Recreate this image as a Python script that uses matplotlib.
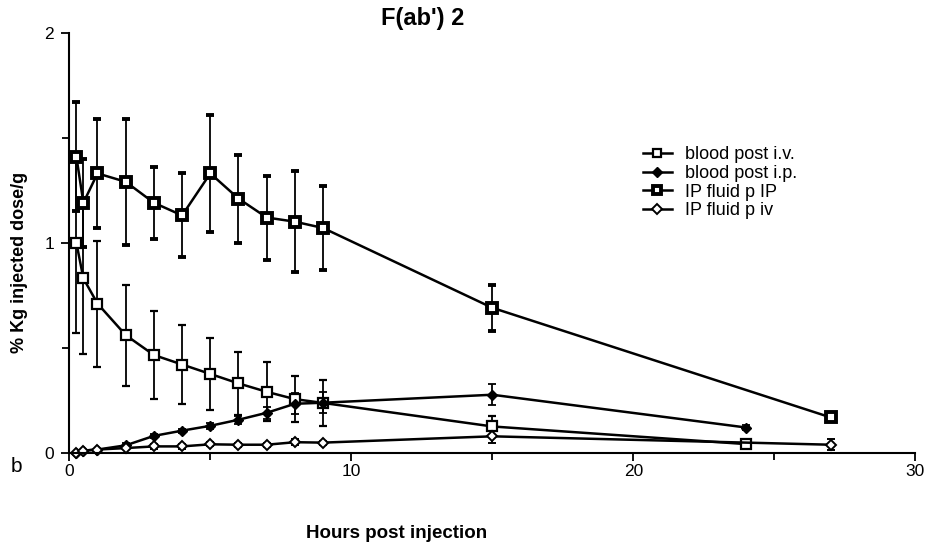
import matplotlib.pyplot as plt
import numpy as np

plt.rcParams['font.family'] = ['Liberation Sans', 'DejaVu Sans']

# time points (hours post injection)
t_blood_iv = [0.25, 0.5, 1, 2, 3, 4, 5, 6, 7, 8, 9, 15, 24]
t_blood_ip = [0.25, 0.5, 1, 2, 3, 4, 5, 6, 7, 8, 9, 15, 24]
t_fluid_ip = [0.25, 0.5, 1, 2, 3, 4, 5, 6, 7, 8, 9, 15, 27]
t_fluid_iv = [0.25, 0.5, 1, 2, 3, 4, 5, 6, 7, 8, 9, 15, 27]

# % Kg injected dose/g
blood_iv = [1.0, 0.83, 0.71, 0.56, 0.465, 0.42, 0.375, 0.33, 0.29, 0.255, 0.237, 0.125, 0.041]
blood_iv_err = [0.43, 0.36, 0.30, 0.24, 0.21, 0.19, 0.17, 0.15, 0.14, 0.11, 0.11, 0.05, 0.0]

blood_ip = [0.0, 0.01, 0.015, 0.035, 0.08, 0.105, 0.128, 0.157, 0.19, 0.233, 0.238, 0.276, 0.12]
blood_ip_err = [0.0, 0.0, 0.0, 0.01, 0.01, 0.01, 0.015, 0.02, 0.03, 0.05, 0.05, 0.05, 0.01]

fluid_ip = [1.41, 1.19, 1.33, 1.29, 1.19, 1.13, 1.33, 1.21, 1.12, 1.10, 1.07, 0.69, 0.168]
fluid_ip_err = [0.26, 0.21, 0.26, 0.30, 0.17, 0.20, 0.28, 0.21, 0.20, 0.24, 0.20, 0.11, 0.01]

fluid_iv = [0.0, 0.01, 0.015, 0.022, 0.03, 0.03, 0.04, 0.038, 0.038, 0.05, 0.048, 0.078, 0.038]
fluid_iv_err = [0.0, 0.0, 0.0, 0.005, 0.01, 0.01, 0.01, 0.01, 0.01, 0.015, 0.01, 0.03, 0.025]

labels = ['blood post i.v.', 'blood post i.p.', 'IP fluid p IP', 'IP fluid p iv']

fig = plt.figure(figsize=(9.28, 5.6), dpi=100)
ax = fig.add_axes([69.3 / 928, 1 - 452.7 / 560, 846 / 928, 420 / 560])

eb = dict(color='black', ecolor='black', elinewidth=1.3, capsize=3, capthick=1.3,
          lw=1.8, clip_on=False)

c1 = ax.errorbar(t_blood_iv, blood_iv, yerr=blood_iv_err, marker='s', ms=6.5,
                 mfc='white', mec='black', mew=1.6, **eb)
c2 = ax.errorbar(t_blood_ip, blood_ip, yerr=blood_ip_err, marker='D', ms=5.5,
                 mfc='black', mec='black', **eb)
c3 = ax.errorbar(t_fluid_ip, fluid_ip, yerr=fluid_ip_err, marker='s', ms=7.5,
                 mfc='white', mec='black', mew=2.8, **eb)
c4 = ax.errorbar(t_fluid_iv, fluid_iv, yerr=fluid_iv_err, marker='D', ms=5.5,
                 mfc='white', mec='black', mew=1.4, **eb)

ax.set_xlim(0, 30)
ax.set_ylim(0, 2)
ax.set_xticks([0, 10, 20, 30])
ax.set_xticks([5, 15, 25], minor=True)
ax.set_yticks([0, 1, 2])
ax.set_yticks([0.5, 1.5], minor=True)
ax.tick_params(which='both', direction='out', width=1.3, labelsize=12.5)
ax.tick_params(which='major', length=6)
ax.tick_params(which='minor', length=5)
ax.tick_params(axis='x', pad=2)
ax.tick_params(axis='y', pad=5)
for s in ['top', 'right']:
    ax.spines[s].set_visible(False)
for s in ['left', 'bottom']:
    ax.spines[s].set_linewidth(1.5)

# legend shows line + marker only, no error bars
handles = [c[0] for c in (c1, c2, c3, c4)]
leg = ax.legend(handles, labels, loc='upper left',
                bbox_to_anchor=(634 / 928, 1 - 137 / 560),
                bbox_transform=fig.transFigure, frameon=False, fontsize=13,
                handlelength=1.6, handletextpad=0.7, labelspacing=0.1,
                borderpad=0, markerscale=0.85)

fig.text(423 / 928, 1 - 18 / 560, "F(ab') 2", ha='center', va='center',
         fontsize=17, fontweight='bold')
fig.text(20 / 928, 1 - 262 / 560, '% Kg injected dose/g', rotation=90,
         ha='center', va='center', fontsize=13, fontweight='bold')
fig.text(397 / 928, 1 - 534 / 560, 'Hours post injection', ha='center',
         va='center', fontsize=13.5, fontweight='bold')
fig.text(16 / 928, 1 - 466 / 560, 'b', ha='center', va='center', fontsize=15)

fig.savefig('out.png', dpi=100)
